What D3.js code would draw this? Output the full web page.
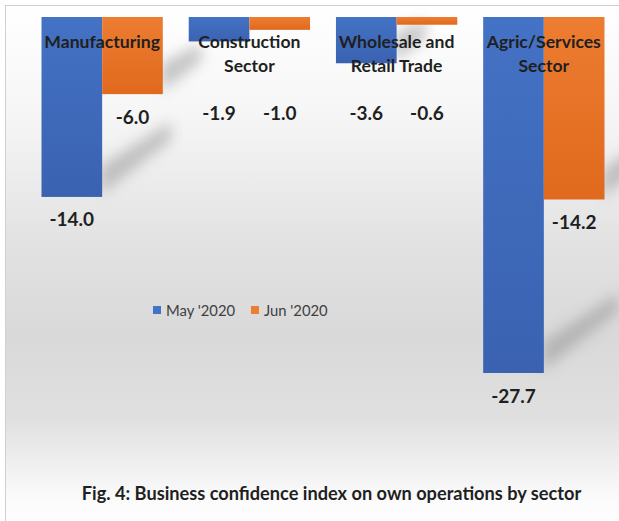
<!DOCTYPE html>
<html><head><meta charset="utf-8">
<script src="https://cdn.jsdelivr.net/npm/d3@7/dist/d3.min.js"></script>
<style>html,body{margin:0;padding:0;background:#fff;overflow:hidden}</style>
</head><body>
<svg id="c" width="619" height="521"></svg>
<script>
const categories = [["Manufacturing"], ["Construction", "Sector"], ["Wholesale and", "Retail Trade"], ["Agric/Services", "Sector"]];
const seriesNames = ["May '2020", "Jun '2020"];
const mayValues = [-14.0, -1.9, -3.6, -27.7];
const junValues = [-6.0, -1.0, -0.6, -14.2];
const colors = ["#4472C4", "#ED7D31"];
const colorsDark = ["#3a62b1", "#e0691d"];
const title = "Fig. 4: Business confidence index on own operations by sector";

const font = "Lato, 'Open Sans', sans-serif";
const svg = d3.select("#c");
const W = 619, H = 521;
const defs = svg.append("defs");
const bg = defs.append("linearGradient").attr("id", "bg").attr("x1", 0).attr("y1", 0).attr("x2", 0).attr("y2", 1);
[[0, "#ffffff"], [0.2, "#f6f6f6"], [0.45, "#e2e2e2"], [0.62, "#d9d9d9"], [0.78, "#e0e0e0"], [0.93, "#fbfbfb"], [1, "#ffffff"]]
  .forEach(([o, c]) => bg.append("stop").attr("offset", o).attr("stop-color", c));
defs.append("filter").attr("id", "blur").attr("x", "-50%").attr("y", "-50%").attr("width", "200%").attr("height", "200%")
  .append("feGaussianBlur").attr("stdDeviation", 7);
colors.forEach((c, j) => {
  const lgd = defs.append("linearGradient").attr("id", "bar" + j).attr("x1", 0).attr("y1", 0).attr("x2", 0).attr("y2", 1);
  lgd.append("stop").attr("offset", 0).attr("stop-color", c);
  lgd.append("stop").attr("offset", 1).attr("stop-color", colorsDark[j]);
});

svg.append("rect").attr("x", 5.5).attr("y", 5.5).attr("width", W + 10).attr("height", H + 10)
  .attr("fill", "url(#bg)").attr("stroke", "#d0d0d0").attr("stroke-width", 1);

const data = categories.map((c, i) => ({ name: c, vals: [mayValues[i], junValues[i]] }));
const x0 = d3.scaleBand().domain(d3.range(categories.length)).range([15, 631]).paddingInner(0.176).paddingOuter(0.18);
const x1 = d3.scaleBand().domain([0, 1]).range([0, x0.bandwidth()]);
const y = d3.scaleLinear().domain([0, -27.7]).range([17, 373]);

// shadows
const sh = svg.append("g").attr("filter", "url(#blur)").attr("opacity", 0.5);
data.forEach((d, i) => {
  d.vals.forEach((v, j) => {
    const xr = x0(i) + x1(j) + x1.bandwidth();
    const ye = y(v);
    const h = Math.abs(y(v) - y(0));
    if (h < 40) return;
    const len = Math.min(75, h * 0.3 + 15);
    sh.append("path").attr("fill", "#8f8f8f")
      .attr("d", `M${xr - 2},${ye - 2} L${xr - 2},${ye - 30} L${xr + len},${ye - 20 - len * 0.8} L${xr + len},${ye - 2 - len * 0.8} Z`);
  });
});

const g = svg.append("g");
data.forEach((d, i) => {
  d.vals.forEach((v, j) => {
    g.append("rect").attr("x", x0(i) + x1(j)).attr("y", y(0))
      .attr("width", x1.bandwidth()).attr("height", y(v) - y(0)).attr("fill", `url(#bar${j})`);
  });
});

// category labels
data.forEach((d, i) => {
  const cx = x0(i) + x0.bandwidth() / 2;
  d.name.forEach((line, k) => {
    svg.append("text").attr("x", cx).attr("y", 48 + k * 24).attr("text-anchor", "middle")
      .attr("font-family", font).attr("font-weight", "bold").attr("font-size", 17.6)
      .attr("fill", "#1f1f1f").text(line);
  });
});

// value labels
data.forEach((d, i) => {
  d.vals.forEach((v, j) => {
    const cx = x0(i) + x1(j) + x1.bandwidth() / 2;
    const cy = Math.max(y(v) + 23, 113);
    svg.append("text").attr("x", cx).attr("y", cy + 6.5).attr("text-anchor", "middle")
      .attr("font-family", font).attr("font-weight", "bold").attr("font-size", 19)
      .attr("fill", "#1f1f1f").text(v.toFixed(1));
  });
});

// legend
const lg = svg.append("g");
const legX = [153, 251];
seriesNames.forEach((s, j) => {
  lg.append("rect").attr("x", legX[j]).attr("y", 306).attr("width", 8).attr("height", 8).attr("fill", colors[j]);
  lg.append("text").attr("x", legX[j] + 13).attr("y", 315.5).attr("font-family", font)
    .attr("font-size", 14.8).attr("fill", "#404040").text(s);
});

svg.append("text").attr("x", 331.5).attr("y", 499.5).attr("text-anchor", "middle")
  .attr("font-family", font).attr("font-weight", "bold").attr("font-size", 18.2)
  .attr("fill", "#1f1f1f").text(title);
</script>
</body></html>
